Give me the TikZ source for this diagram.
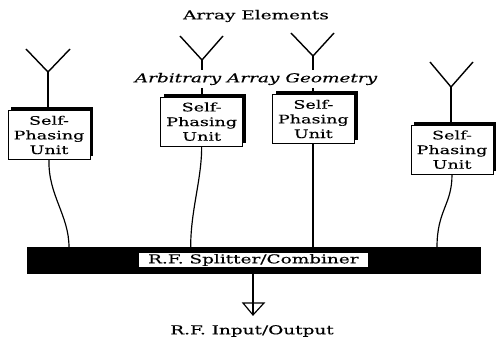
\documentclass[tikz,border=0pt]{standalone}
\usepackage{fontspec}
\newfontfamily\paperfont[FakeStretch=1.5,FakeBold=0.25]{DejaVu Serif}
\usetikzlibrary{shapes,positioning,calc,shadows}

\begin{document}
\begin{tikzpicture}[
  unit/.style={draw, fill=white, line width=0.8pt, minimum width=2.46cm, minimum height=1.47cm, inner sep=0pt, align=center, font=\paperfont\fontsize{10}{12.5}\selectfont, drop shadow={shadow xshift=0.1cm, shadow yshift=0.09cm, fill=black, opacity=1}},
  label/.style={font=\paperfont\fontsize{10.5}{12}\selectfont, inner sep=0pt},
  wire/.style={line width=1.2pt},
  feed/.style={line width=1pt}
]
  \useasboundingbox (0, 0) rectangle (14.88, -10.2);

  % Title and geometry note
  \node[label] (title) at (7.68, -0.48) {Array Elements};
  \node[label, font=\paperfont\itshape\fontsize{10.5}{12}\selectfont] (geometry) at (7.68, -2.37) {Arbitrary Array Geometry};

  % Self-phasing units
  \node[unit] (unit1) at (1.47, -4.05) {Self-\\Phasing\\Unit};
  \node[unit] (unit2) at (6.05, -3.65) {Self-\\Phasing\\Unit};
  \node[unit] (unit3) at (9.40, -3.57) {Self-\\Phasing\\Unit};
  \node[unit] (unit4) at (13.56, -4.49) {Self-\\Phasing\\Unit};

  % Splitter bar
  \node[draw, fill=black, minimum width=13.59cm, minimum height=0.78cm] (bar) at (7.6, -7.8) {};
  \node[fill=white, minimum width=6.87cm, minimum height=0.42cm, inner sep=0pt, font=\paperfont\fontsize{10.5}{12}\selectfont] (barlabel) at (bar.center) {R.F. Splitter/Combiner};

  % Antennas
  \coordinate (v1) at (1.44, -2.16);
  \coordinate (v2) at (6.06, -1.80);
  \coordinate (v3) at (9.39, -1.68);
  \coordinate (v4) at (13.53, -2.61);
  \draw[wire] (0.78, -1.47) -- (v1) -- (2.10, -1.47);
  \draw[wire] (5.40, -1.08) -- (v2) -- (6.69, -1.08);
  \draw[wire] (8.73, -0.99) -- (v3) -- (10.02, -0.99);
  \draw[wire] (12.90, -1.86) -- (v4) -- (14.19, -1.86);

  % Stems
  \coordinate (s2a) at (6.06, -2.10);
  \coordinate (s2b) at (6.06, -2.64);
  \coordinate (s3a) at (9.39, -2.10);
  \coordinate (s3b) at (9.39, -2.64);
  \draw[wire] (v1) -- (v1 |- unit1.north);
  \draw[wire] (v2) -- (s2a);
  \draw[wire] (s2b) -- (s2b |- unit2.north);
  \draw[wire] (v3) -- (s3a);
  \draw[wire] (s3b) -- (s3b |- unit3.north);
  \draw[wire] (v4) -- (v4 |- unit4.north);

  % Feed lines
  \coordinate (f1) at (2.07, -7.42);
  \coordinate (f2) at (5.72, -7.42);
  \coordinate (f3) at (9.39, -7.42);
  \coordinate (f4) at (13.11, -7.42);
  \draw[feed] (unit1.south) .. controls (1.44, -5.85) and (2.07, -6.45) .. (f1);
  \draw[feed] (unit2.south) .. controls (6.05, -5.40) and (5.72, -6.30) .. (f2);
  \draw[feed] (unit3.south -| f3) -- (f3);
  \draw[feed] (unit4.south) .. controls (13.56, -6.15) and (13.11, -6.30) .. (f4);

  % Output
  \coordinate (tip) at (7.59, -9.45);
  \coordinate (headl) at (7.29, -9.09);
  \coordinate (headr) at (7.92, -9.09);
  \draw[wire] (bar.south -| tip) -- (tip);
  \draw[feed] (headl) -- (headr) -- (tip) -- cycle;
  \node[label] (output) at (7.56, -9.93) {R.F. Input/Output};
\end{tikzpicture}
\end{document}
